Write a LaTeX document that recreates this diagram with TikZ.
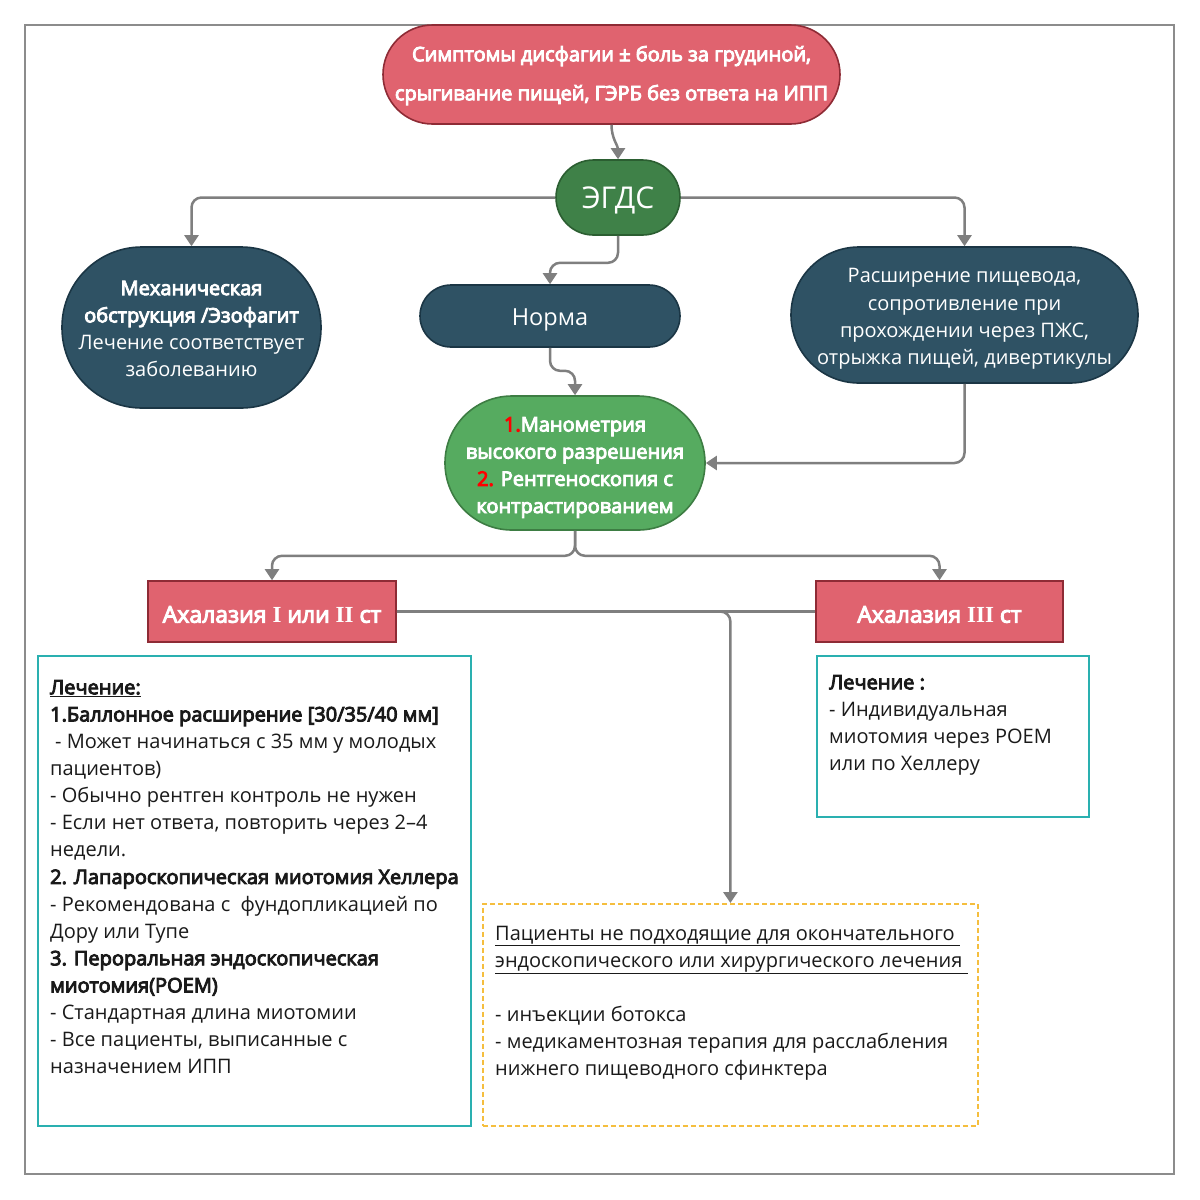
\documentclass[tikz,border=0pt]{standalone}
\usepackage{fontspec}
\setmainfont{Open Sans}
\newfontfamily\romfont{Liberation Serif}
\newfontfamily\sbfont{Open Sans}[FakeBold=4.5]
\newcommand\sbt[1]{{\sbfont #1}}
\usetikzlibrary{arrows.meta}
\definecolor{redf}{HTML}{E0636F}
\definecolor{redb}{HTML}{8E2B35}
\definecolor{dgreen}{HTML}{3F8148}
\definecolor{dgreenb}{HTML}{2B5E31}
\definecolor{dblue}{HTML}{2F5264}
\definecolor{dblueb}{HTML}{1B3645}
\definecolor{lgreen}{HTML}{56AB60}
\definecolor{lgreenb}{HTML}{3D7D43}
\definecolor{teal2}{HTML}{2AB0B0}
\definecolor{orng}{HTML}{F5BE3E}
\definecolor{conng}{HTML}{7F7F7F}
\definecolor{frameg}{HTML}{8C8C8C}
\definecolor{txt}{HTML}{1A1A1A}
\begin{document}
\begin{tikzpicture}[x=1pt,y=-1pt,
  shp/.style={line width=1.6pt, inner sep=0pt},
  wtext/.style={inner sep=0pt, align=center, text=white},
  conn/.style={draw=conng, line width=2.5pt, rounded corners=10pt, -{Triangle[width=14pt,length=11pt]}},
  plain/.style={draw=conng, line width=2.5pt},
  boxtext/.style={anchor=north west, inner sep=0pt, align=left, text=txt, font=\fontsize{20}{27.1}\selectfont}
]
\useasboundingbox[fill=white] (0,0) rectangle (1200,1200);
\draw[frameg, line width=1.8pt] (25,25) rectangle (1174,1174);

% main shapes
\node[shp, fill=redf, draw=redb, minimum width=457pt, minimum height=99pt, rounded corners=49.5pt] (top) at (611.5,74.5) {};
\node[wtext, font=\sbfont\fontsize{20}{39}\selectfont] (topt) at ([yshift=-1pt]top.center)
  {Симптомы дисфагии ± боль за грудиной,\\срыгивание пищей, ГЭРБ без ответа на ИПП};

\node[shp, fill=dgreen, draw=dgreenb, minimum width=124pt, minimum height=75pt, rounded corners=37.5pt] (egds) at (618,197.5) {};
\node[wtext, font=\fontsize{30}{34}\selectfont] (egdst) at ([yshift=-3pt]egds.center) {ЭГДС};

\node[shp, fill=dblue, draw=dblueb, minimum width=259pt, minimum height=161pt, rounded corners=80pt] (mech) at (191.5,327.5) {};
\node[wtext, font=\fontsize{20}{27.3}\selectfont] (mecht) at ([yshift=-1.5pt]mech.center)
  {\sbt{Механическая}\\\sbt{обструкция /Эзофагит}\\Лечение соответствует\\заболеванию};

\node[shp, fill=dblue, draw=dblueb, minimum width=260pt, minimum height=62pt, rounded corners=31pt] (norma) at (550,316) {};
\node[wtext, font=\fontsize{23.5}{27}\selectfont] (normat) at ([yshift=-3.5pt]norma.center) {Норма};

\node[shp, fill=dblue, draw=dblueb, minimum width=347pt, minimum height=136pt, rounded corners=68pt] (rasch) at (964.5,315) {};
\node[wtext, font=\fontsize{20}{27.3}\selectfont] (rascht) at ([yshift=-4pt]rasch.center)
  {Расширение пищевода,\\сопротивление при\\прохождении через ПЖС,\\отрыжка пищей, дивертикулы};

\node[shp, fill=lgreen, draw=lgreenb, minimum width=260pt, minimum height=134pt, rounded corners=67pt] (mano) at (575,463) {};
\node[wtext, font=\sbfont\fontsize{20}{27.2}\selectfont] (manot) at ([yshift=-4.5pt]mano.center)
  {\textcolor{red}{1.}Манометрия\\высокого разрешения\\\textcolor{red}{2.} Рентгеноскопия с\\контрастированием};

\node[shp, fill=redf, draw=redb, minimum width=248pt, minimum height=61pt] (ach12) at (272,611.5) {};
\node[wtext, font=\sbfont\fontsize{23}{27}\selectfont] (ach12t) at ([yshift=-3pt]ach12.center)
  {Ахалазия {\romfont\bfseries I} или {\romfont\bfseries II} ст};

\node[shp, fill=redf, draw=redb, minimum width=247pt, minimum height=61pt] (ach3) at (939.5,611.5) {};
\node[wtext, font=\sbfont\fontsize{23}{27}\selectfont] (ach3t) at ([yshift=-3pt]ach3.center)
  {Ахалазия {\romfont\bfseries III} ст};

% boxes
\node[draw=teal2, line width=2pt, minimum width=433pt, minimum height=470pt, anchor=north west, inner sep=0pt] (lbox) at (37,655) {};
\node[draw=teal2, line width=2pt, minimum width=272pt, minimum height=161pt, anchor=north west, inner sep=0pt] (rbox) at (816,655) {};
\node[draw=orng, line width=1.8pt, dash pattern=on 5pt off 3pt, minimum width=495pt, minimum height=222pt, anchor=north west, inner sep=0pt] (dbox) at (482,903) {};

\node[boxtext] (ltext) at (50,675.1) {\strut\sbt{\underline{Лечение:}}\\
\sbt{1.Баллонное расширение [30/35/40 мм]}\\
\hspace*{5pt}- Может начинаться с 35 мм у молодых\\
пациентов)\\
- Обычно рентген контроль не нужен\\
- Если нет ответа, повторить через 2–4\\
недели.\\
\sbt{2. Лапароскопическая миотомия Хеллера}\\
- Рекомендована с\ \ фундопликацией по\\
Дору или Тупе\\
\sbt{3. Пероральная эндоскопическая}\\
\sbt{миотомия(POEM)}\\
- Стандартная длина миотомии\\
- Все пациенты, выписанные с\\
назначением ИПП};

\node[boxtext] (rtext) at (829,670.1) {\strut\sbt{Лечение :}\\
- Индивидуальная\\
миотомия через POEM\\
или по Хеллеру};

\node[boxtext] (dtext) at (495,921.1) {\strut\underline{Пациенты не подходящие для окончательного\ }\\
\underline{эндоскопического или хирургического лечения\ }\\
\mbox{}\\
- инъекции ботокса\\
- медикаментозная терапия для расслабления\\
нижнего пищеводного сфинктера};

% connectors
\draw[conn] (top.south) to[out=-90,in=90] (egds.north);
\draw[conn] (egds.west) -| (mech.north);
\draw[conn] (egds.east) -| (rasch.north);
\draw[conn] (egds.south) -- ++(0,27) -| (norma.north);
\draw[conn] (norma.south) -- ++(0,23) -| (mano.north);
\draw[conn] (rasch.south) |- (mano.east);
\draw[conn] (mano.south) -- ++(0,25) -| (ach12.north);
\draw[conn] (mano.south) -- ++(0,25) -| (ach3.north);
\draw[plain] (ach12.east) -- (ach3.west);
\draw[conn] (ach12.east) -| (dbox.north);
\end{tikzpicture}
\end{document}
